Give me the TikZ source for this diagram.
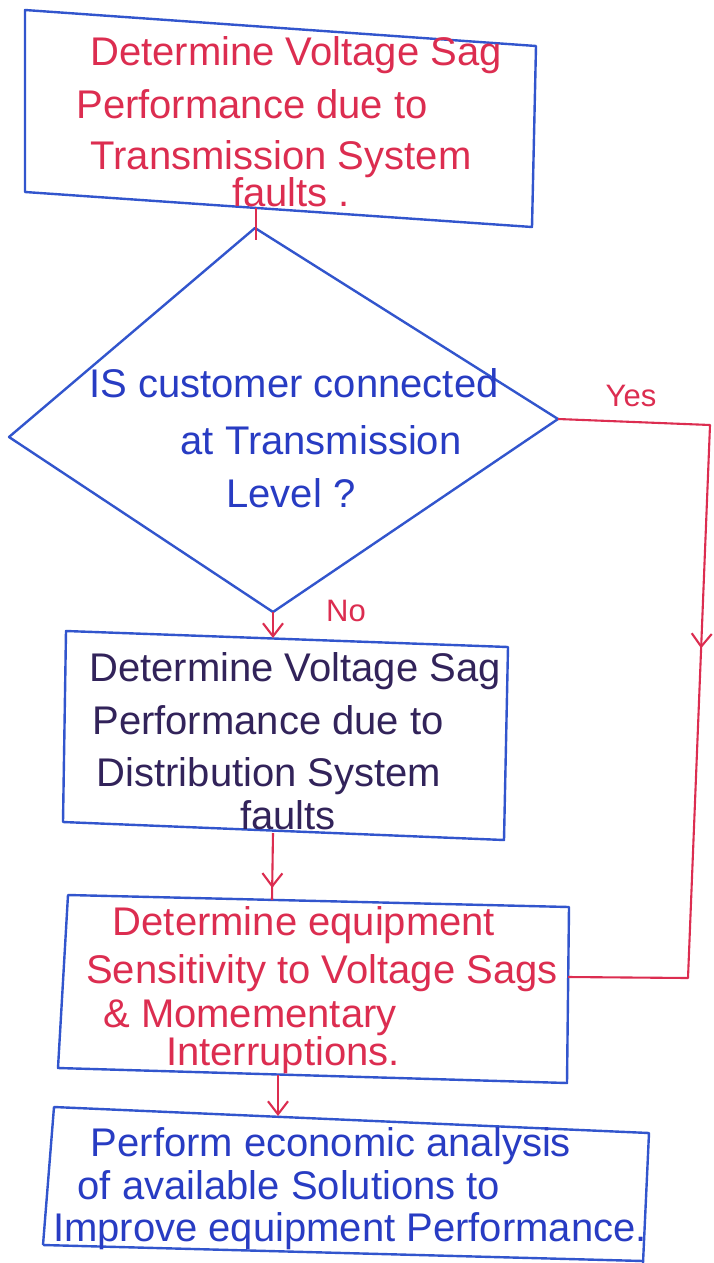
\documentclass[tikz,border=0pt]{standalone}
\usepackage{fontspec}
\setmainfont{Liberation Sans}
\usetikzlibrary{arrows.meta,decorations.markings}
\definecolor{penblue}{RGB}{50,85,205}
\definecolor{penred}{RGB}{220,45,80}
\definecolor{inkdark}{RGB}{50,35,90}
\definecolor{inkblue}{RGB}{40,60,195}
\tikzset{
  outline/.style={draw=penblue, line width=2.4pt, line join=round},
  hand/.style={anchor=base, inner sep=0pt, font=\fontsize{40}{48}\selectfont},
  lab/.style={anchor=base, inner sep=0pt, text=penred, font=\fontsize{31}{36}\selectfont},
  flow/.style={draw=penred, line width=2.1pt},
  tipend/.style={-{Straight Barb[length=13pt,width=20pt,line width=2.1pt]}},
  midtip/.style={postaction={decorate}, decoration={markings, mark=at position #1 with {\arrow{Straight Barb[length=13pt,width=20pt,line width=2.1pt]}}}},
}
\begin{document}
\begin{tikzpicture}[x=1pt,y=-1pt]
\fill[white] (0,0) rectangle (714,1263);
\useasboundingbox (0,0) rectangle (714,1263);

% ---- box 1
\coordinate (b1tl) at (25,10);
\coordinate (b1tr) at (536,46);
\coordinate (b1br) at (532,227);
\coordinate (b1bl) at (25,192);
\draw[outline] (b1tl) -- (b1tr) -- (b1br) -- (b1bl) -- cycle;
\node[hand, text=penred] (t1a) at (296,66) {Determine Voltage Sag};
\node[hand, text=penred] (t1b) at (252,118) {Performance due to};
\node[hand, text=penred] (t1c) at (281,169) {Transmission System};
\node[hand, text=penred] (t1d) at (291,206) {faults .};

% ---- decision diamond
\coordinate (dtop) at (255,228);
\coordinate (dright) at (558,419);
\coordinate (dbot) at (273,612);
\coordinate (dleft) at (9,437);
\draw[outline] (dtop) -- (dright) -- (dbot) -- (dleft) -- cycle;
\node[hand, text=inkblue] (q1) at (294,397) {IS customer connected};
\node[hand, text=inkblue] (q2) at (321,454) {at Transmission};
\node[hand, text=inkblue] (q3) at (291,507) {Level ?};

% ---- box 2
\coordinate (b2tl) at (66,631);
\coordinate (b2tr) at (508,647);
\coordinate (b2br) at (504,840);
\coordinate (b2bl) at (63,822);
\draw[outline] (b2tl) -- (b2tr) -- (b2br) -- (b2bl) -- cycle;
\node[hand, text=inkdark] (t2a) at (295,681) {Determine Voltage Sag};
\node[hand, text=inkdark] (t2b) at (268,734) {Performance due to};
\node[hand, text=inkdark] (t2c) at (269,786) {Distribution System};
\node[hand, text=inkdark] (t2d) at (288,829) {faults};

% ---- box 3
\coordinate (b3tl) at (68,895);
\coordinate (b3tr) at (569,907);
\coordinate (b3br) at (567,1083);
\coordinate (b3bl) at (58,1068);
\draw[outline] (b3tl) -- (b3tr) -- (b3br) -- (b3bl) -- cycle;
\node[hand, text=penred] (t3a) at (304,935) {Determine equipment};
\node[hand, text=penred] (t3b) at (322,983) {Sensitivity to Voltage Sags};
\node[hand, text=penred] (t3c) at (250,1027) {\& Momementary};
\node[hand, text=penred] (t3d) at (283,1065) {Interruptions.};

% ---- box 4
\coordinate (b4tl) at (54,1107);
\coordinate (b4tr) at (649,1133);
\coordinate (b4br) at (643,1263);
\coordinate (b4bl) at (43,1245);
\coordinate (b4bend) at (643,1261);
\draw[outline] (b4bl) -- (b4tl) -- (b4tr) -- (b4br);
\draw[outline] (b4bl) -- (b4bend);
\node[hand, text=inkblue] (t4a) at (331,1156) {Perform economic analysis};
\node[hand, text=inkblue] (t4b) at (289,1199) {of available Solutions to};
\node[hand, text=inkblue] (t4c) at (350,1241) {Improve equipment Performance.};

% ---- connectors
\coordinate (b1s) at (256,208);
\coordinate (dtin) at (256,240);
\draw[flow] (b1s) -- (dtin);

\coordinate (b2n) at (273,638);
\draw[flow, tipend] (dbot) -- (b2n);
\node[lab] (no) at (346,621) {No};

\coordinate (b2s) at (273,833);
\coordinate (b3n) at (272,900);
\draw[flow, midtip=0.82] (b2s) -- (b3n);

\coordinate (b3s) at (278,1075);
\coordinate (b4n) at (278,1116);
\draw[flow, tipend] (b3s) -- (b4n);

\coordinate (yc1) at (710,425);
\coordinate (yc2) at (688,978);
\coordinate (b3e) at (568,977);
\draw[flow, line join=round, midtip=0.455] (dright) -- (yc1) -- (yc2) -- (b3e);
\node[lab] (yes) at (631,406) {Yes};
\end{tikzpicture}
\end{document}
